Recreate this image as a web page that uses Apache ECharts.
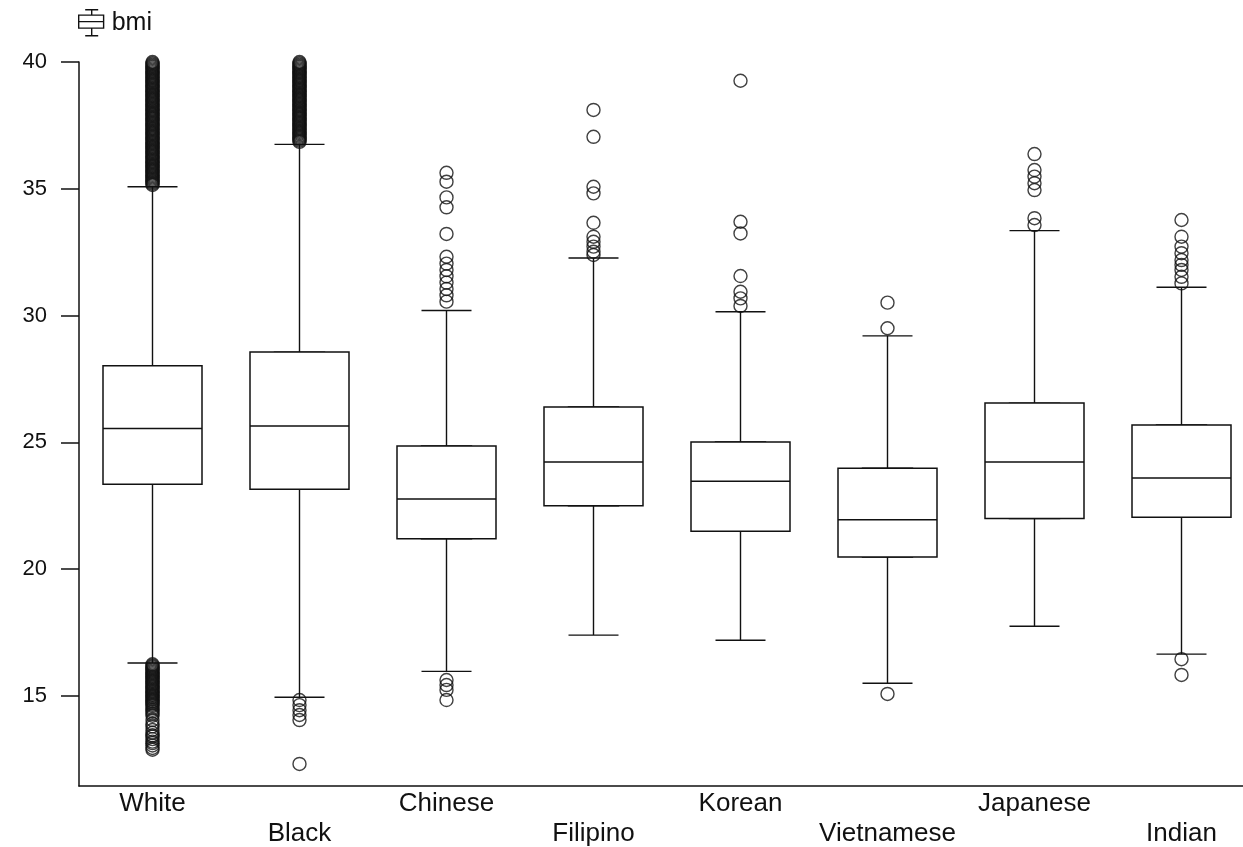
<!DOCTYPE html>
<html>
<head>
<meta charset="utf-8">
<title>bmi</title>
<script src="https://cdn.jsdelivr.net/npm/echarts@6.0.0/dist/echarts.min.js"></script>
<style>
  html, body { margin: 0; padding: 0; background: #fff; }
  #chart { width: 1243px; height: 847px; }
</style>
</head>
<body>
<div id="chart"></div>
<script>
const categories = ["White", "Black", "Chinese", "Filipino", "Korean", "Vietnamese", "Japanese", "Indian"];

// five-number summary
const lowWhisker = [16.3, 14.95, 15.97, 17.4, 17.2, 15.5, 17.75, 16.65];
const q1 = [23.35, 23.15, 21.2, 22.5, 21.5, 20.48, 22.0, 22.05];
const median = [25.55, 25.65, 22.77, 24.23, 23.47, 21.95, 24.23, 23.6];
const q3 = [28.02, 28.56, 24.86, 26.4, 25.02, 23.98, 26.55, 25.69];
const highWhisker = [35.08, 36.75, 30.2, 32.27, 30.15, 29.2, 33.35, 31.12];

// outliers (White and Black are packed so tight they read as a solid bar)
const whiteOut = [
  35.15, 35.2, 35.25, 35.3, 35.35, 35.4, 35.45, 35.5, 35.55, 35.6, 35.65, 35.7, 35.75, 35.8, 35.85, 35.9, 35.95,
  36.0, 36.05, 36.1, 36.15, 36.2, 36.25, 36.3, 36.35, 36.4, 36.45, 36.5, 36.55, 36.6, 36.65, 36.7, 36.75, 36.8,
  36.85, 36.9, 36.95, 37.0, 37.05, 37.1, 37.15, 37.2, 37.25, 37.3, 37.35, 37.4, 37.45, 37.5, 37.55, 37.6, 37.65,
  37.7, 37.75, 37.8, 37.85, 37.9, 37.95, 38.0, 38.05, 38.1, 38.15, 38.2, 38.25, 38.3, 38.35, 38.4, 38.45, 38.5,
  38.55, 38.6, 38.65, 38.7, 38.75, 38.8, 38.85, 38.9, 38.95, 39.0, 39.05, 39.1, 39.15, 39.2, 39.25, 39.3, 39.35,
  39.4, 39.45, 39.5, 39.55, 39.6, 39.65, 39.7, 39.75, 39.8, 39.85, 39.9, 39.95, 40.0,
  16.25, 16.2, 16.15, 16.1, 16.05, 16.0, 15.95, 15.9, 15.85, 15.8, 15.75, 15.7, 15.65, 15.6, 15.55, 15.5, 15.45,
  15.4, 15.35, 15.3, 15.25, 15.2, 15.15, 15.1, 15.05, 15.0, 14.95, 14.9, 14.85, 14.8, 14.75, 14.7, 14.65, 14.6,
  14.52, 14.45, 14.38, 14.3, 14.22, 14.05, 13.9, 13.8, 13.66, 13.55, 13.45, 13.4, 13.3, 13.2, 13.14, 13.05, 12.95, 12.88
];
const blackOut = [
  36.85, 36.9, 36.95, 37.0, 37.05, 37.1, 37.15, 37.2, 37.25, 37.3, 37.35, 37.4, 37.45, 37.5, 37.55, 37.6, 37.65,
  37.7, 37.75, 37.8, 37.85, 37.9, 37.95, 38.0, 38.05, 38.1, 38.15, 38.2, 38.25, 38.3, 38.35, 38.4, 38.45, 38.5,
  38.55, 38.6, 38.65, 38.7, 38.75, 38.8, 38.85, 38.9, 38.95, 39.0, 39.05, 39.1, 39.15, 39.2, 39.25, 39.3, 39.35,
  39.4, 39.45, 39.5, 39.55, 39.6, 39.65, 39.7, 39.75, 39.8, 39.85, 39.9, 39.95, 40.0,
  14.84, 14.64, 14.44, 14.25, 14.05, 12.32
];
const chineseOut = [35.63, 35.28, 34.66, 34.27, 33.22, 32.32, 32.05, 31.8, 31.55, 31.3, 31.05, 30.8, 30.55, 15.63, 15.43, 15.24, 14.84];
const filipinoOut = [38.11, 37.05, 35.08, 34.82, 33.66, 33.11, 32.91, 32.72, 32.52, 32.39];
const koreanOut = [39.26, 33.7, 33.24, 31.56, 30.94, 30.68, 30.38];
const vietnameseOut = [30.51, 29.5, 15.08];
const japaneseOut = [36.37, 35.74, 35.48, 35.22, 34.95, 33.84, 33.57];
const indianOut = [33.77, 33.11, 32.72, 32.46, 32.19, 32.0, 31.8, 31.53, 31.27, 16.45, 15.83];

const yTicks = [15, 20, 25, 30, 35, 40];
const yMin = 11.45;
const yMax = 40;

const outliers = [whiteOut, blackOut, chineseOut, filipinoOut, koreanOut, vietnameseOut, japaneseOut, indianOut];

const font = "'Liberation Sans', Arial, sans-serif";
const ink = "#111";

// whiskers come from a narrow boxplot, the wide box is drawn on top of it
const whiskerData = categories.map((c, i) => [lowWhisker[i], q1[i], median[i], q3[i], highWhisker[i]]);
const boxData = categories.map((c, i) => [q1[i], q1[i], median[i], q3[i], q3[i]]);
const outlierData = [];
categories.forEach((c, i) => {
  outliers[i].forEach(v => outlierData.push([c, v]));
});

const chart = echarts.init(document.getElementById("chart"));

const option = {
  animation: false,
  backgroundColor: "#fff",
  legend: {
    data: ["bmi"],
    left: 78,
    top: 9,
    padding: 0,
    itemWidth: 25,
    itemHeight: 26,
    icon: "path://M7,1L19,1M13,1L13,6M1,6L24,6L24,18L1,18ZM1,12L24,12M13,18L13,25M7,25L19,25",
    itemStyle: { color: "#fff", borderColor: ink, borderWidth: 1.4 },
    textStyle: { fontSize: 25, color: ink, fontFamily: font, padding: [0, 0, 0, 3] },
  },
  grid: { left: 79, right: -12, top: 62, bottom: 61, outerBoundsMode: "none" },
  xAxis: [
    {
      type: "category",
      data: categories,
      boundaryGap: true,
      axisLine: { lineStyle: { color: ink, width: 1.5 } },
      axisTick: { show: false },
      splitLine: { show: false },
      axisLabel: {
        interval: 0,
        margin: 3,
        color: ink,
        fontFamily: font,
        fontSize: 26,
        lineHeight: 30,
        // every other label sits one line lower
        formatter: (v, i) => (i % 2 ? "\n" + v : v),
      },
    },
    { type: "category", data: categories, show: false },
  ],
  yAxis: {
    type: "value",
    min: yMin,
    max: yMax,
    axisLine: { show: true, lineStyle: { color: ink, width: 1.5 } },
    axisTick: { show: true, length: 18, customValues: yTicks, lineStyle: { color: ink, width: 1.5 } },
    axisLabel: { customValues: yTicks, margin: 32, fontSize: 22, color: ink, fontFamily: font },
    splitLine: { show: false },
  },
  series: [
    {
      name: "whisker",
      type: "boxplot",
      xAxisIndex: 1,
      boxWidth: [50, 50],
      data: whiskerData,
      silent: true,
      itemStyle: { color: "rgba(0,0,0,0)", borderColor: ink, borderWidth: 1.4 },
      z: 2,
    },
    {
      name: "bmi",
      type: "boxplot",
      xAxisIndex: 0,
      boxWidth: [99, 99],
      data: boxData,
      itemStyle: { color: "#fff", borderColor: ink, borderWidth: 1.5 },
      z: 3,
    },
    {
      name: "outlier",
      type: "scatter",
      xAxisIndex: 0,
      data: outlierData,
      symbol: "circle",
      symbolSize: 13,
      itemStyle: { color: "rgba(0,0,0,0)", borderColor: ink, borderWidth: 1.4 },
      z: 4,
    },
  ],
};

chart.setOption(option);
</script>
</body>
</html>
